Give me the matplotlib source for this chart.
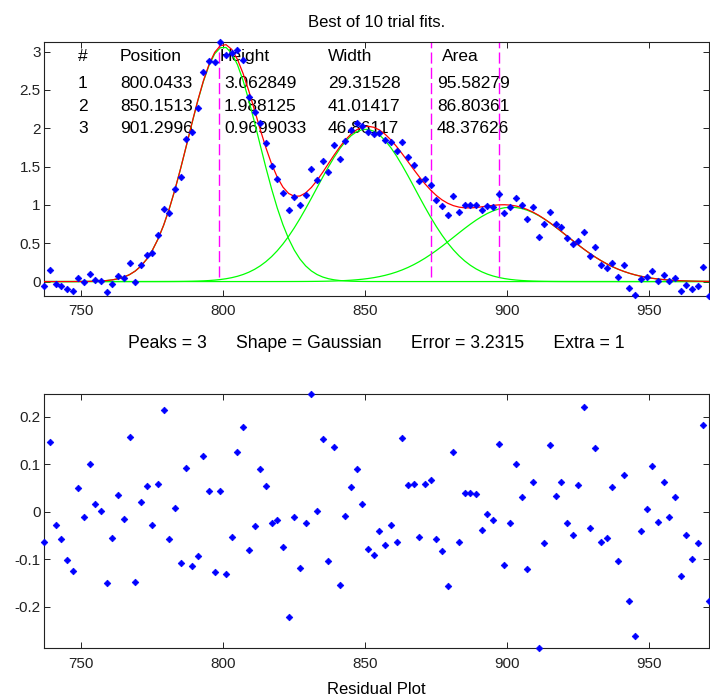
import matplotlib
matplotlib.use("Agg")
import matplotlib.pyplot as plt
import numpy as np

plt.rcParams['font.family'] = ['Liberation Sans', 'DejaVu Sans']

# sample grid of the signal (every 2 units, 737..971)
x = np.arange(737, 972, 2)

# residuals
residual = np.array([
    -0.063, 0.146, -0.027, -0.058, -0.101, -0.124, 0.051, -0.012, 0.100, 0.017,
    0.002, -0.150, -0.055, 0.036, -0.015, 0.157, -0.147, 0.020, 0.054, -0.027,
    0.059, 0.214, -0.058, 0.008, -0.107, 0.093, -0.113, -0.092, 0.117, 0.043,
    -0.127, 0.043, -0.130, -0.052, 0.126, 0.178, -0.081,
    -0.029, 0.089, 0.054, -0.024, -0.018, -0.075, -0.221, -0.012, -0.118, -0.024,
    0.247, 0.002, 0.152, -0.104, 0.137, -0.153, -0.009, 0.052, 0.089, 0.017,
    -0.078, -0.090, -0.041, -0.070, -0.027, -0.064, 0.155, 0.056, 0.059, -0.052,
    0.059, 0.066, -0.058, -0.082, -0.155, 0.126, -0.064, 0.040, 0.040, 0.037,
    -0.038, -0.004,
    -0.017, 0.143, -0.112, -0.024, 0.100, 0.031, -0.121, 0.063, -0.287, -0.066,
    0.140, 0.034, 0.063, -0.024, -0.049, 0.056, 0.220, -0.035, 0.135, -0.063,
    -0.055, 0.052, -0.104, 0.077, -0.187, -0.261, -0.040, 0.006, 0.097, -0.021,
    0.063, -0.012, 0.031, -0.135, -0.049, -0.100, -0.066, 0.183, -0.187])

# fitted peaks as listed in the table
peak_pos = [800.0433, 850.1513, 901.2996]
peak_height = [3.062849, 1.988125, 0.9699033]
peak_width = [29.31528, 41.01417, 46.86117]
peak_area = [95.58279, 86.80361, 48.37626]

# dashed magenta markers
guess_x = [798.6, 873.2, 897.2]

header = ['#', 'Position', 'Height', 'Width', 'Area']
title = 'Best of 10 trial fits.'
info = 'Peaks = 3      Shape = Gaussian      Error = 3.2315      Extra = 1'


def gauss(xx, p, h, w):
    return h * np.exp(-((xx - p) / (0.6005612 * w)) ** 2)


comps = [gauss(x, p, h, w) for p, h, w in zip(peak_pos, peak_height, peak_width)]
model = np.sum(comps, axis=0)
y = model + residual

fig = plt.figure(figsize=(7.10, 6.96), dpi=100)
ax1 = fig.add_axes([0.0624, 0.5751, 0.9362, 0.3641])
ax2 = fig.add_axes([0.0624, 0.0685, 0.9362, 0.3650])

for c in comps:
    ax1.plot(x, c, color='#00ff00', lw=0.9, zorder=2)
ax1.plot(x, model, color='#ff0000', lw=0.9, zorder=3)
ax1.vlines(guess_x, 0.06, 3.3, colors='#ff00ff', lw=1.0,
           linestyles=(0, (8, 3)), zorder=2.5)
ax1.plot(x, y, 'D', color='#0000ff', ms=3.4, mew=0.5, zorder=4, clip_on=False)

ax1.set_xlim(x.min(), x.max())
ax1.set_ylim(y.min(), y.max())
ax1.set_yticks([0, 0.5, 1, 1.5, 2, 2.5, 3])
ax1.set_yticklabels(['0', '0.5', '1', '1.5', '2', '2.5', '3'])
ax1.set_title(title, fontsize=12, pad=11)
ax1.set_xlabel(info, fontsize=12.7, labelpad=12)

# results table inside the upper panel
col_x = [0.0507, 0.1139, 0.2705, 0.4268, 0.5908]
ax1_txt = dict(transform=ax1.transAxes, fontsize=12.5, va='baseline', zorder=1)
head_x = [0.0507, 0.1139, 0.2643, 0.4268, 0.5983]
for hx, h in zip(head_x, header):
    ax1.text(hx, 0.9262, h, **ax1_txt)
row_y = [0.8185, 0.7289, 0.6409]
for i in range(len(peak_pos)):
    cells = [str(i + 1), '%.7g' % peak_pos[i], '%.7g' % peak_height[i],
             '%.7g' % peak_width[i], '%.7g' % peak_area[i]]
    for cx, s in zip(col_x, cells):
        ax1.text(cx, row_y[i], s, **ax1_txt)

ax2.plot(x, residual, 'D', color='#0000ff', ms=3.4, mew=0.5, zorder=4, clip_on=False)
ax2.set_xlim(x.min(), x.max())
ax2.set_ylim(residual.min(), residual.max())
ax2.set_yticks([-0.2, -0.1, 0, 0.1, 0.2])
ax2.set_yticklabels(['-0.2', '-0.1', '0', '0.1', '0.2'])
ax2.set_xlabel('Residual Plot', fontsize=12, labelpad=8)

for ax in (ax1, ax2):
    ax.set_xticks([750, 800, 850, 900, 950])
    ax.tick_params(direction='in', length=4.5, width=0.7, top=True, right=True,
                   labelsize=11, colors='#222222')
    ax.tick_params(axis='x', pad=6)
    ax.tick_params(axis='y', pad=2.5)
    for s in ax.spines.values():
        s.set_linewidth(0.8)
        s.set_color('#222222')

fig.savefig('out.png', dpi=100)
